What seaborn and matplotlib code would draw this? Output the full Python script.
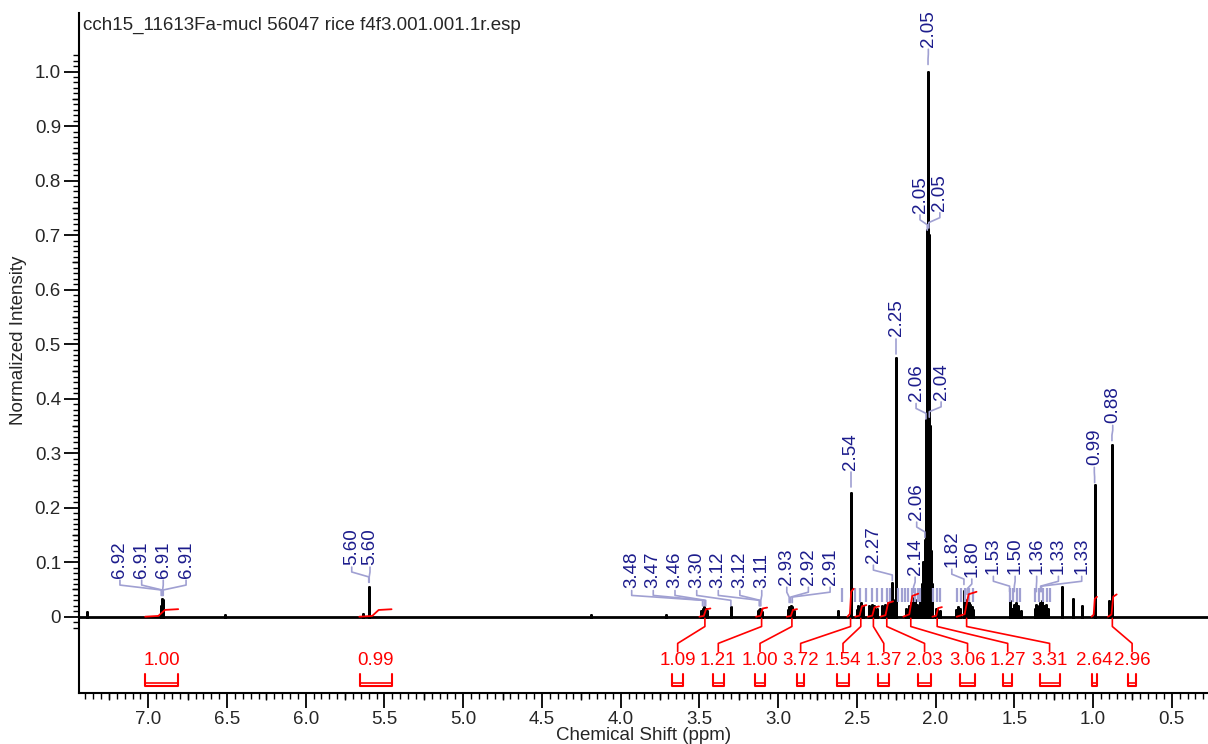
import numpy as np
import pandas as pd
import seaborn as sns
import matplotlib.pyplot as plt
from matplotlib.ticker import FixedLocator, MultipleLocator, FormatStrFormatter

# Spectrum peaks (ppm, normalized intensity)

peak_ppm = [7.39, 6.918, 6.913, 6.909, 6.905, 6.51, 5.638, 5.600, 5.597, 4.19, 3.71,
            3.49, 3.48, 3.47, 3.46, 3.45, 3.30, 3.13, 3.12, 3.115, 3.11, 3.10,
            2.94, 2.93, 2.92, 2.91, 2.90, 2.62, 2.54, 2.50, 2.49, 2.475, 2.46,
            2.42, 2.405, 2.39, 2.375, 2.34, 2.32, 2.30, 2.285, 2.275, 2.258, 2.25,
            2.19, 2.17, 2.155, 2.145, 2.14, 2.13, 2.12, 2.11, 2.10, 2.09,
            2.085, 2.078, 2.068, 2.064, 2.060, 2.056, 2.052, 2.048, 2.045, 2.042,
            2.038, 2.032, 2.025, 2.02, 2.00, 1.99, 1.97,
            1.87, 1.86, 1.845, 1.82, 1.81, 1.80, 1.79, 1.78, 1.77, 1.76,
            1.53, 1.515, 1.50, 1.49, 1.475, 1.46,
            1.37, 1.36, 1.345, 1.335, 1.325, 1.31, 1.30, 1.285,
            1.195, 1.125, 1.068, 0.99, 0.90, 0.88]
peak_height = [0.008, 0.020, 0.032, 0.030, 0.018, 0.004, 0.005, 0.055, 0.050, 0.003, 0.003,
               0.010, 0.015, 0.017, 0.014, 0.010, 0.018, 0.010, 0.013, 0.014, 0.012, 0.008,
               0.012, 0.018, 0.019, 0.018, 0.010, 0.010, 0.2275, 0.012, 0.020, 0.025, 0.020,
               0.020, 0.022, 0.020, 0.015, 0.020, 0.022, 0.025, 0.040, 0.062, 0.030, 0.474,
               0.015, 0.020, 0.025, 0.030, 0.034, 0.030, 0.022, 0.020, 0.030, 0.045,
               0.060, 0.100, 0.140, 0.350, 0.360, 0.700, 0.710, 1.000, 0.700, 0.360,
               0.350, 0.120, 0.060, 0.030, 0.015, 0.012, 0.010,
               0.012, 0.018, 0.015, 0.048, 0.025, 0.030, 0.025, 0.022, 0.018, 0.012,
               0.028, 0.015, 0.022, 0.025, 0.020, 0.010,
               0.015, 0.022, 0.020, 0.025, 0.028, 0.020, 0.022, 0.015,
               0.055, 0.032, 0.020, 0.242, 0.028, 0.315]

# Picked peak labels

label_text = ["6.92", "6.91", "6.91", "6.91", "5.60", "5.60",
              "3.48", "3.47", "3.46", "3.30", "3.12", "3.12", "3.11",
              "2.93", "2.92", "2.91", "2.54", "2.27", "2.25", "2.14",
              "2.06", "2.06", "2.05", "2.05", "2.05", "2.04",
              "1.82", "1.80", "1.53", "1.50", "1.36", "1.33", "1.33", "0.99", "0.88"]
label_peak_ppm = [6.918, 6.913, 6.909, 6.905, 5.600, 5.597,
                  3.48, 3.47, 3.46, 3.30, 3.12, 3.115, 3.11,
                  2.93, 2.92, 2.91, 2.54, 2.275, 2.25, 2.14,
                  2.068, 2.061, 2.053, 2.048, 2.043, 2.040,
                  1.82, 1.80, 1.53, 1.50, 1.36, 1.333, 1.327, 0.99, 0.88]

# Unlabelled peak-pick markers

marker_ppm = [2.596, 2.512, 2.480, 2.442, 2.404, 2.372, 2.340, 2.309, 2.290, 2.239,
              2.213, 2.194, 2.175, 2.152, 2.131, 2.111, 2.098, 2.016, 1.990, 1.973,
              1.864, 1.839, 1.813, 1.788, 1.763, 1.527, 1.508, 1.483, 1.464,
              1.369, 1.343, 1.318, 1.292, 1.273]

# Integrals

integral_value = [1.00, 0.99, 1.09, 1.21, 1.00, 3.72, 1.54, 1.37, 2.03, 3.06, 1.27, 3.31, 2.64, 2.96]
integral_start = [7.02, 5.66, 3.50, 3.14, 2.945, 2.56, 2.51, 2.43, 2.35, 2.205, 2.02, 1.866, 1.01, 0.905]
integral_end = [6.81, 5.455, 3.43, 3.07, 2.88, 2.52, 2.44, 2.36, 2.27, 2.11, 1.96, 1.74, 0.975, 0.85]

title = "cch15_11613Fa-mucl 56047 rice f4f3.001.001.1r.esp"

# Label layout (ppm position of text, level of text bottom)

label_x = [7.180, 7.042, 6.905, 6.760, 5.708, 5.592,
           3.930, 3.793, 3.655, 3.517, 3.380, 3.243, 3.104,
           2.945, 2.808, 2.670, 2.54, 2.395, 2.25, 2.130,
           2.120, 2.124, 2.099, 2.046, 1.973, 1.965,
           1.897, 1.770, 1.633, 1.495, 1.358, 1.220, 1.072, 0.992, 0.875]
label_base = [0.071, 0.071, 0.071, 0.071, 0.095, 0.095,
              0.052, 0.052, 0.052, 0.052, 0.052, 0.052, 0.052,
              0.058, 0.058, 0.058, 0.269, 0.0985, 0.514, 0.0765,
              0.1775, 0.395, 0.741, 1.045, 0.745, 0.398,
              0.091, 0.073, 0.078, 0.078, 0.078, 0.078, 0.078, 0.278, 0.355]
integral_label_x = [6.915, 5.554, 3.638, 3.380, 3.115, 2.857, 2.588, 2.329,
                    2.070, 1.797, 1.542, 1.276, 0.990, 0.752]

NAVY = "#1c1c8c"
LAVENDER = "#a0a0d2"
RED = "#ff0000"

sns.set_style("ticks")
plt.rcParams["font.family"] = ["Liberation Sans", "DejaVu Sans"]

fig = plt.figure(figsize=(12.08, 7.44), dpi=100)
ax = fig.add_axes([79 / 1208, 51 / 744, 1129 / 1208, 680.3 / 744])

xlim = (7.44, 0.27)
ylim = (-0.14, 1.108)

# Stick spectrum

order = np.argsort(peak_ppm)[::-1]
xs = [xlim[0]]
ys = [0.0]
for i in order:
    xs += [peak_ppm[i]] * 3
    ys += [0.0, peak_height[i], 0.0]
xs.append(xlim[1])
ys.append(0.0)
spec = pd.DataFrame({"ppm": xs, "intensity": ys})

sns.lineplot(data=spec, x="ppm", y="intensity", sort=False, estimator=None,
             color="black", linewidth=2.0, ax=ax)

# Peak-pick markers and labels

ax.vlines(marker_ppm, 0.027, 0.052, color=LAVENDER, linewidth=1.6)

for txt, px, lx, b in zip(label_text, label_peak_ppm, label_x, label_base):
    ax.plot([lx, lx, px, px], [b - 0.004, b - 0.013, b - 0.022, b - 0.032],
            color=LAVENDER, linewidth=1.2)
    ax.text(lx, b, txt, rotation=90, ha="center", va="bottom",
            color=NAVY, fontsize=13.5)

# Integrals

for val, s, e, lx in zip(integral_value, integral_start, integral_end, integral_label_x):
    w = s - e
    cx = (s + e) / 2
    r = val * 0.0138
    ax.plot([s, s - 0.4 * w, s - 0.6 * w, e], [0, 0.1 * r, 0.9 * r, r],
            color=RED, linewidth=1.3)
    if abs(lx - cx) > 0.02:
        ax.plot([cx, cx, lx, lx], [-0.003, -0.018, -0.049, -0.064],
                color=RED, linewidth=1.2)
    ax.text(lx, -0.0795, f"{val:.2f}", ha="center", va="center",
            color=RED, fontsize=13.5)
    x0, x1 = lx + w / 2, lx - w / 2
    ax.plot([x0, x0, x1, x1], [-0.105, -0.127, -0.127, -0.105], color=RED, linewidth=1.5)
    ax.plot([x0, x1], [-0.121, -0.121], color=RED, linewidth=1.2)

ax.text(0.0035, 0.982, title, transform=ax.transAxes, ha="left", va="center", fontsize=13.5)

# Axes

ax.set_xlim(*xlim)
ax.set_ylim(*ylim)

ax.xaxis.set_major_locator(MultipleLocator(0.5))
ax.xaxis.set_minor_locator(MultipleLocator(0.05))
ax.xaxis.set_major_formatter(FormatStrFormatter("%.1f"))

yt = np.round(np.arange(0, 1.01, 0.1), 2)
ax.yaxis.set_major_locator(FixedLocator(yt))
ax.set_yticklabels(["0"] + [f"{v:.1f}" for v in yt[1:]])
ax.yaxis.set_minor_locator(FixedLocator(np.round(np.arange(-0.02, 1.035, 0.01), 2)))

ax.tick_params(axis="both", which="major", direction="out", length=11, width=1.3,
               labelsize=13.5, pad=2, color="black")
ax.tick_params(axis="both", which="minor", direction="out", length=4, width=1.0, color="black")

# medium ticks at quarter ppm and 0.05 intensity
xmid = [v for v in np.arange(7.25, 0.2, -0.5)]
ax.vlines(xmid, 0, -7 / 680.3, transform=ax.get_xaxis_transform(), color="black",
          linewidth=1.0, clip_on=False)
ymid = np.round(np.arange(0.05, 1.0, 0.1), 2)
ax.hlines(ymid, 0, -7 / 1129, transform=ax.get_yaxis_transform(), color="black",
          linewidth=1.0, clip_on=False)

sns.despine(ax=ax)
for sp in ["left", "bottom"]:
    ax.spines[sp].set_linewidth(1.5)
    ax.spines[sp].set_color("black")

ax.set_xlabel("Chemical Shift (ppm)", fontsize=13.5, labelpad=-1)
ax.set_ylabel("Normalized Intensity", fontsize=13.5)
ax.yaxis.set_label_coords(-0.046, 0.519)

fig.savefig("out.png", dpi=100)
